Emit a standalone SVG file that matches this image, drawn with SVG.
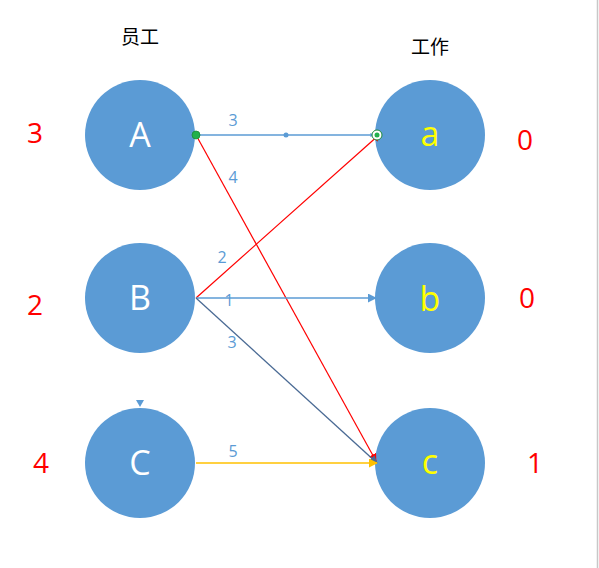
<svg xmlns="http://www.w3.org/2000/svg" width="599" height="568" viewBox="0 0 599 568">
<style>
.node{fill:#5b9bd5;}
.up{font-family:"Open Sans","Liberation Sans",sans-serif;font-size:34px;fill:#ffffff;text-anchor:middle;}
.lo{font-family:"Open Sans","Liberation Sans",sans-serif;font-size:34px;fill:#ffff00;text-anchor:middle;}
.num{font-family:"Open Sans","Liberation Sans",sans-serif;font-size:28px;fill:#ff0000;text-anchor:middle;}
.lbl{font-family:"Open Sans","Liberation Sans",sans-serif;font-size:16px;fill:#5b9bd5;text-anchor:middle;}
.hd{font-family:"Noto Sans CJK SC",sans-serif;font-size:19px;fill:#000;text-anchor:middle;}
</style>
<defs>
<marker id="ab" viewBox="0 0 10 10" refX="9" refY="5" markerWidth="4" markerHeight="4" orient="auto" markerUnits="userSpaceOnUse"><path d="M0,0L10,5L0,10z" fill="#5b9bd5"/></marker>
<marker id="ar" viewBox="0 0 10 10" refX="9" refY="5" markerWidth="8" markerHeight="8" orient="auto" markerUnits="userSpaceOnUse"><path d="M0,0L10,5L0,10z" fill="#ff0000"/></marker>
<marker id="ag" viewBox="0 0 10 10" refX="9" refY="5" markerWidth="8" markerHeight="8" orient="auto" markerUnits="userSpaceOnUse"><path d="M0,0L10,5L0,10z" fill="#4a6a94"/></marker>
<marker id="ay" viewBox="0 0 10 10" refX="9" refY="5" markerWidth="9" markerHeight="9" orient="auto" markerUnits="userSpaceOnUse"><path d="M0,0L10,5L0,10z" fill="#ffc000"/></marker>
<marker id="ab2" viewBox="0 0 10 10" refX="9" refY="5" markerWidth="9" markerHeight="9" orient="auto" markerUnits="userSpaceOnUse"><path d="M0,0L10,5L0,10z" fill="#5b9bd5"/></marker>
</defs>
<rect width="599" height="568" fill="#ffffff"/>
<line x1="597.5" y1="0" x2="597.5" y2="568" stroke="#c8c8c8" stroke-width="1.5"/>
<text class="hd" x="140" y="44">员工</text>
<text class="hd" x="430" y="54">工作</text>
<g id="node-A"><circle class="node" cx="140" cy="135" r="55"/><text class="up" x="140" y="147">A</text></g>
<g id="node-B"><circle class="node" cx="140" cy="298" r="55"/><text class="up" x="140" y="310">B</text></g>
<g id="node-C"><circle class="node" cx="140" cy="463" r="55"/><text class="up" x="140" y="475">C</text><path d="M136,400L144,400L140,407z" fill="#5b9bd5"/></g>
<g id="node-a"><circle class="node" cx="430" cy="135" r="55"/><text class="lo" x="430" y="146">a</text></g>
<g id="node-b"><circle class="node" cx="430" cy="298" r="55"/><text class="lo" x="430" y="311">b</text></g>
<g id="node-c"><circle class="node" cx="430" cy="463" r="55"/><text class="lo" x="430" y="474">c</text></g>
<g id="connectors" fill="none">
<line x1="196" y1="135" x2="374" y2="135" stroke="#5b9bd5" stroke-width="1.3" marker-end="url(#ab)"/>
<circle cx="286" cy="135" r="2.5" fill="#5b9bd5"/>
<line x1="196" y1="135" x2="376" y2="461" stroke="#ff0000" stroke-width="1.2" marker-end="url(#ar)"/>
<line x1="196" y1="298" x2="380" y2="134" stroke="#ff0000" stroke-width="1.2" marker-end="url(#ar)"/>
<line x1="196" y1="298" x2="376" y2="298" stroke="#5b9bd5" stroke-width="1.5" marker-end="url(#ab2)"/>
<line x1="196" y1="298" x2="377" y2="463" stroke="#4a6a94" stroke-width="1.3" marker-end="url(#ag)"/>
<line x1="196" y1="463" x2="377" y2="463" stroke="#ffc000" stroke-width="1.5" marker-end="url(#ay)"/>
<circle cx="196" cy="135" r="4" fill="#22b14c" stroke="#1a8a3a" stroke-width="0.8"/>
<circle cx="377" cy="135" r="5" fill="#ffffff" stroke="#1a8a3a" stroke-width="1"/>
<circle cx="377" cy="135" r="2.5" fill="#22b14c"/>
</g>
<text class="lbl" x="233" y="126">3</text>
<text class="lbl" x="233" y="183">4</text>
<text class="lbl" x="222" y="263">2</text>
<text class="lbl" x="229" y="306">1</text>
<text class="lbl" x="232" y="348">3</text>
<text class="lbl" x="233" y="457">5</text>
<text class="num" x="35" y="143">3</text>
<text class="num" x="35" y="315">2</text>
<text class="num" x="41" y="473">4</text>
<text class="num" x="525" y="150">0</text>
<text class="num" x="527" y="308">0</text>
<text class="num" x="535" y="473">1</text>
</svg>
